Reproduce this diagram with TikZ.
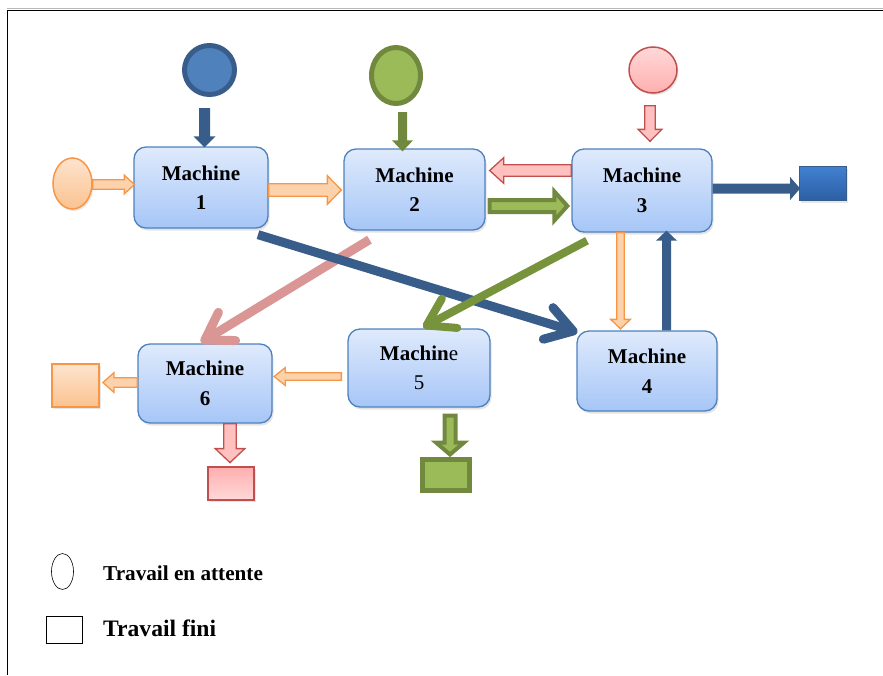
\documentclass[tikz,border=0pt]{standalone}
\usepackage{fontspec}
\setmainfont{Liberation Serif}
\usetikzlibrary{calc,shadows,arrows.meta,shapes.geometric}

\definecolor{boxtop}{HTML}{DFEAFC}
\definecolor{boxbot}{HTML}{A6C6F7}
\definecolor{boxline}{HTML}{4F81BD}
\definecolor{bluedark}{HTML}{385D8A}
\definecolor{bluefill}{HTML}{4F81BD}
\definecolor{greenline}{HTML}{71893F}
\definecolor{greenfill}{HTML}{9BBB59}
\definecolor{greendiag}{HTML}{77933C}
\definecolor{pinkline}{HTML}{C0504D}
\definecolor{pinkfill}{HTML}{FFC0C0}
\definecolor{pinklight}{HTML}{FFD8D8}
\definecolor{pinkdeep}{HTML}{FFAFAF}
\definecolor{rosediag}{HTML}{D99694}
\definecolor{orangeline}{HTML}{F79646}
\definecolor{orangefill}{HTML}{FCD2AC}
\definecolor{orangelight}{HTML}{FDE4CE}
\definecolor{orangedeep}{HTML}{FBC28F}
\definecolor{squaretop}{HTML}{4181D2}
\definecolor{squarebot}{HTML}{2C5EA2}

% block arrow from #2 to #3: #4 half shaft width, #5 half head width, #6 head length
\newcommand\blockarrow[6]{%
  \path let \p1=#2, \p2=#3,
            \n1={atan2(\y2-\y1,\x2-\x1)}, \n2={veclen(\x2-\x1,\y2-\y1)} in
    \pgfextra{\xdef\baAng{\n1}\xdef\baLen{\n2}\xdef\baX{\x1}\xdef\baY{\y1}};
  \begin{scope}[shift={(\baX,\baY)}, rotate=\baAng, x=1pt, y=1pt]
    \path[#1] (0,-#4) -- ({\baLen-#6},-#4) -- ({\baLen-#6},-#5) -- (\baLen,0)
      -- ({\baLen-#6},#5) -- ({\baLen-#6},#4) -- (0,#4) -- cycle;
  \end{scope}}

\begin{document}
\begin{tikzpicture}[x=1pt, y=-1pt,
  machine/.style={draw=boxline, line width=1.3pt, rounded corners=12pt,
    top color=boxtop, bottom color=boxbot, inner sep=0pt, align=center,
    font=\fontsize{21}{29.5}\selectfont\bfseries,
    execute at begin node={\rule{0pt}{25pt}},
    drop shadow={opacity=0.22, shadow xshift=1.5pt, shadow yshift=-2.5pt}},
  softshadow/.style={drop shadow={opacity=0.2, shadow xshift=1.5pt, shadow yshift=-2pt}},
  waitblue/.style={ellipse, draw=bluedark, fill=bluefill, line width=5pt, inner sep=0pt},
  waitgreen/.style={ellipse, draw=greenline, fill=greenfill, line width=5pt, inner sep=0pt},
  waitpink/.style={ellipse, draw=pinkline, top color=pinklight, bottom color=pinkdeep,
    line width=1.5pt, inner sep=0pt, softshadow},
  waitorange/.style={ellipse, draw=orangeline, top color=orangelight, bottom color=orangedeep,
    line width=1.5pt, inner sep=0pt, softshadow},
  doneblue/.style={rectangle, draw=bluedark, top color=squaretop, bottom color=squarebot,
    line width=0.8pt, inner sep=0pt, softshadow},
  doneorange/.style={rectangle, draw=orangeline, top color=orangelight, bottom color=orangedeep,
    line width=1.8pt, inner sep=0pt, softshadow},
  donepink/.style={rectangle, draw=pinkline, top color=pinkdeep, bottom color=pinklight,
    line width=1.8pt, inner sep=0pt, softshadow},
  donegreen/.style={rectangle, draw=greenline, fill=greenfill, line width=5pt, inner sep=0pt},
  oarrow/.style={draw=orangeline, fill=orangefill, line width=1.3pt, line join=miter},
  parrow/.style={draw=pinkline, fill=pinkfill, line width=1.3pt, line join=miter},
  garrow/.style={draw=greenline, fill=greenfill, line width=4pt, line join=miter},
  barrow/.style={fill=bluedark},
  gsolid/.style={fill=greenline},
  diagline/.style={line width=#1, -{Straight Barb[length=26pt, width=33pt, round]}},
  legendtext/.style={anchor=base west, inner sep=0pt}
]
\useasboundingbox (0,0) rectangle (883,675);

% frame
\draw[gray!55, line width=1pt] (7,8.8) -- (883,8.8);
\draw[black, line width=1.7pt] (7.5,675) -- (7.5,10.6) -- (883,10.6);

% machines
\node[machine, minimum width=134pt, minimum height=81pt] (m1) at (201,187.5) {Machine\\1};
\node[machine, minimum width=141pt, minimum height=81pt] (m2) at (414.5,189.5) {Machine\\2};
\node[machine, minimum width=140pt, minimum height=83pt] (m3) at (642,190.5) {Machine\\3};
\node[machine, minimum width=140pt, minimum height=80pt] (m4) at (647,371) {Machine\\4};
\node[machine, minimum width=142pt, minimum height=78pt] (m5) at (419,368) {Machin{\mdseries e}\\{\mdseries 5}};
\node[machine, minimum width=134pt, minimum height=79pt] (m6) at (205,383.5) {Machine\\6};

% waiting jobs
\node[waitblue, minimum width=50pt, minimum height=49pt] (c1) at (209.5,70) {};
\node[waitgreen, minimum width=49pt, minimum height=56pt] (c2) at (396,75.5) {};
\node[waitpink, minimum width=48pt, minimum height=46pt] (c3) at (653,70) {};
\node[waitorange, minimum width=39pt, minimum height=51pt] (c4) at (72.5,183.5) {};

% finished jobs
\node[doneblue, minimum width=47pt, minimum height=34pt] (s1) at (823,183.5) {};
\node[doneorange, minimum width=47pt, minimum height=43pt] (s2) at (75.5,385.5) {};
\node[donepink, minimum width=46pt, minimum height=33pt] (s3) at (231,483.5) {};
\node[donegreen, minimum width=47pt, minimum height=31pt] (s4) at (446,475) {};

% diagonal flows
\draw[diagline=9pt, rosediag] ($(m2.south)+(-45,9)$) -- ($(m6.north)+(-4,-1)$);
\draw[diagline=9pt, bluedark] ($(m1.south)+(57,6)$) -- ($(m4.north west)+(1,2)$);
\draw[diagline=8pt, greendiag] ($(m3.south)+(-55,8)$) -- ($(m5.north)+(4,-1)$);

% block arrows
\blockarrow{barrow}{($(c1.south)+(-5,11)$)}{($(m1.north)+(3.5,1)$)}{5.5}{11}{11}
\blockarrow{oarrow}{($(c4.east)+(0,1)$)}{($(m1.west)+(1,-3)$)}{4.8}{9.3}{10}
\blockarrow{oarrow}{($(m1.east)+(0,2.5)$)}{($(m2.west)+(-2,0.5)$)}{6.3}{14.3}{14}
\blockarrow{parrow}{($(m3.west)+(0,-20)$)}{($(m2.east)+(4,-19)$)}{5.8}{12.8}{14}
\blockarrow{garrow}{($(m2.east)+(4,16.5)$)}{($(m3.west)+(-4,15.5)$)}{6}{14.5}{13}
\blockarrow{gsolid}{($(c2.south)+(6.5,6)$)}{($(m2.north)+(-12,3)$)}{4.5}{10.5}{11}
\blockarrow{parrow}{($(c3.south)+(-3,12)$)}{($(m3.north)+(8,-7)$)}{5.3}{11.8}{12}
\blockarrow{barrow}{($(m3.east)+(0,-2)$)}{($(s1.west)+(1,5)$)}{5}{11.5}{10}
\blockarrow{oarrow}{($(m3.south)+(-21.5,0)$)}{($(m4.north)+(-26.5,-1.5)$)}{3.8}{9.8}{9.5}
\blockarrow{barrow}{($(m4.north)+(19.5,0)$)}{($(m3.south)+(24.5,-2)$)}{4.5}{10.5}{10}
\blockarrow{oarrow}{($(m5.west)+(-6,8.5)$)}{($(m6.east)+(1.5,-7)$)}{3.8}{8.8}{11}
\blockarrow{oarrow}{($(m6.west)+(0,-1)$)}{($(s2.east)+(3,-3)$)}{4.8}{9.8}{11}
\blockarrow{parrow}{($(m6.south)+(25,0)$)}{($(s3.north)+(-1,-3.5)$)}{6.3}{14.8}{14}
\blockarrow{garrow}{($(m5.south)+(31,8)$)}{($(s4.north)+(4,-2.5)$)}{5.5}{14}{12}

% legend
\node[ellipse, draw, line width=0.6pt, minimum width=22pt, minimum height=36pt, inner sep=0pt] (lwait) at (62.5,571.5) {};
\node[legendtext, font=\fontsize{21.2}{25}\selectfont\bfseries] (lwaittext) at (103,580) {Travail en attente};
\node[rectangle, draw, line width=0.6pt, minimum width=36pt, minimum height=27pt, inner sep=0pt] (ldone) at (64,629.5) {};
\node[legendtext, font=\fontsize{23.6}{28}\selectfont\bfseries] (ldonetext) at (103,636) {Travail fini};
\end{tikzpicture}
\end{document}
